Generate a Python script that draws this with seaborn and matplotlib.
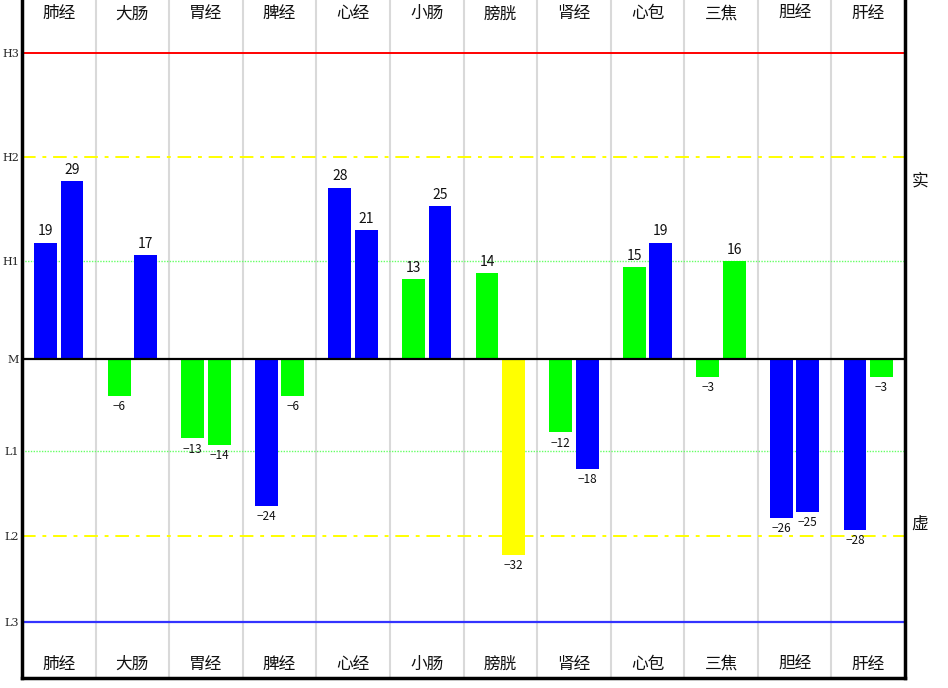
import matplotlib
matplotlib.use("Agg")
import matplotlib.pyplot as plt
import seaborn as sns
import pandas as pd

# ---- data ----
categories = ["肺经", "大肠", "胃经", "脾经", "心经", "小肠", "膀胱", "肾经", "心包", "三焦", "胆经", "肝经"]
left_values = [19, -6, -13, -24, 28, 13, 14, -12, 15, -3, -26, -28]
right_values = [29, 17, -14, -6, 21, 25, -32, -18, 19, 16, -25, -3]
left_colors = ["blue", "green", "green", "blue", "blue", "green", "green", "green", "green", "green", "blue", "blue"]
right_colors = ["blue", "blue", "green", "green", "blue", "blue", "yellow", "blue", "blue", "green", "blue", "green"]
level_names = ["H3", "H2", "H1", "M", "L1", "L2", "L3"]
level_values = [50, 33, 16, 0, -15, -29, -43]
side_labels = ["实", "虚"]
side_label_y = [29, -27]

palette = {"blue": "#0000ff", "green": "#00ff00", "yellow": "#ffff00"}

sns.set_style("white")
plt.rcParams['font.family'] = ['Noto Sans CJK SC', 'DejaVu Sans']

df = pd.DataFrame({
    "cat": categories * 2,
    "side": ["L"] * len(categories) + ["R"] * len(categories),
    "value": left_values + right_values,
})

fig = plt.figure(figsize=(9.48, 6.88), dpi=100)
ax = fig.add_axes([22 / 948, 10 / 688, 883 / 948, 678 / 688])

sns.barplot(data=df, x="cat", y="value", hue="side", order=categories,
            hue_order=["L", "R"], width=0.72, gap=0.14, dodge=True,
            legend=False, ax=ax, linewidth=0, errorbar=None)

color_lists = [left_colors, right_colors]
value_lists = [left_values, right_values]
for cont, cols, vals in zip(ax.containers, color_lists, value_lists):
    for bar, c, v in zip(cont, cols, vals):
        bar.set_facecolor(palette[c])
        bar.set_edgecolor("none")
        bar.set_zorder(3)
        xc = bar.get_x() + bar.get_width() / 2
        if v >= 0:
            ax.annotate(str(v), (xc, v), xytext=(0, 3), textcoords="offset points",
                        ha="center", va="bottom", fontsize=10, color="#111111", zorder=5)
        else:
            ax.annotate("\u2212" + str(abs(v)), (xc, v), xytext=(0, -3), textcoords="offset points",
                        ha="center", va="top", fontsize=8.5, color="#111111", zorder=5)

n = len(categories)
ax.set_xlim(-0.5, n - 0.5)
ax.set_ylim(-52.15, 58.66)

# column separators
for k in range(1, n):
    ax.axvline(k - 0.5, color="#d9d9d9", lw=1.5, zorder=1)

# reference lines
styles = {
    "H3": dict(color="#ff0000", lw=1.4, ls="-"),
    "H2": dict(color="#ffff00", lw=1.4, ls=(0, (7, 3.5, 2, 3.5))),
    "H1": dict(color="#66ff66", lw=1.0, ls=(0, (1, 1))),
    "M": dict(color="#000000", lw=1.6, ls="-"),
    "L1": dict(color="#66ff66", lw=1.0, ls=(0, (1, 1))),
    "L2": dict(color="#ffff00", lw=1.4, ls=(0, (7, 3.5, 2, 3.5))),
    "L3": dict(color="#3333ff", lw=1.6, ls="-"),
}
for name, yv in zip(level_names, level_values):
    st = styles[name]
    ax.axhline(yv, color=st["color"], lw=st["lw"], linestyle=st["ls"],
               zorder=4 if name == "M" else 2)

ax.set_yticks(level_values)
ax.set_yticklabels(level_names, fontsize=8, family=["DejaVu Serif"])
ax.tick_params(axis="y", length=0, pad=2)
ax.set_xticks([])
ax.set_xlabel("")
ax.set_ylabel("")

# category labels top & bottom
for i, c in enumerate(categories):
    ax.text(i, 56.4, c, ha="center", va="center", fontsize=12, color="#111111")
    ax.text(i, -49.9, c, ha="center", va="center", fontsize=12, color="#111111")

# side labels
for lab, yv in zip(side_labels, side_label_y):
    ax.text(1.017, yv, lab, transform=ax.get_yaxis_transform(), ha="center",
            va="center", fontsize=12, color="#111111")

for s in ["left", "right", "bottom"]:
    ax.spines[s].set_visible(True)
    ax.spines[s].set_color("black")
    ax.spines[s].set_linewidth(2.5)
ax.spines["top"].set_visible(False)

fig.savefig("out.png", dpi=100)
